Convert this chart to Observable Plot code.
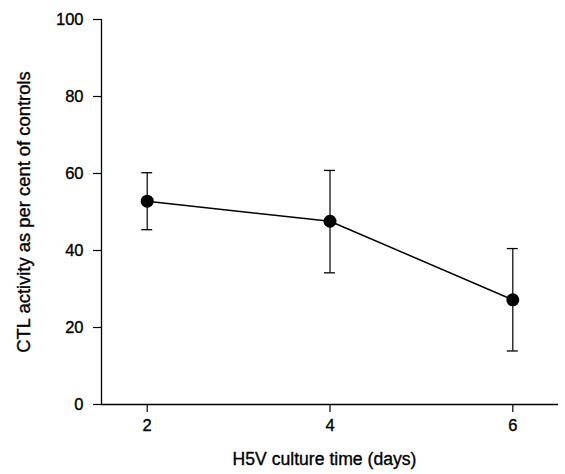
<!DOCTYPE html>
<html>
<head>
<meta charset="utf-8">
<script src="https://cdn.jsdelivr.net/npm/d3@7"></script>
<script src="https://cdn.jsdelivr.net/npm/@observablehq/plot@0.6"></script>
<style>
  html, body { margin: 0; padding: 0; background: #fff; }
</style>
</head>
<body>
<div id="chart"></div>
<script>
const days = [2, 4, 6];
const meanValues = [52.8, 47.6, 27.2];
const upperValues = [60.2, 60.8, 40.5];
const lowerValues = [45.4, 34.2, 13.9];
const xTicks = [2, 4, 6];
const yTicks = [0, 20, 40, 60, 80, 100];
const xLabel = "H5V culture time (days)";
const yLabel = "CTL activity as per cent of controls";

const data = days.map((d, i) => ({x: d, y: meanValues[i], hi: upperValues[i], lo: lowerValues[i]}));
const capHalf = 0.06;
const xMin = 1.5, xMax = 6.5;
const font = "'Liberation Sans', Arial, Helvetica, sans-serif";
const textWeight = {fill: "#000", stroke: "#000", strokeWidth: 0.35};

const chart = Plot.plot({
  width: 565,
  height: 474,
  marginLeft: 101,
  marginRight: 7,
  marginTop: 19,
  marginBottom: 70,
  style: {fontFamily: font, fontSize: "16px", color: "#000", background: "#fff"},
  x: {domain: [xMin, xMax]},
  y: {domain: [0, 100]},
  marks: [
    Plot.axisX({ticks: xTicks, tickFormat: () => "", tickSize: 8, label: null, stroke: "#000", strokeWidth: 1.2}),
    Plot.axisY({ticks: yTicks, tickFormat: () => "", tickSize: 8, label: null, stroke: "#000", strokeWidth: 1.2}),
    Plot.text(xTicks, {x: d => d, frameAnchor: "bottom", text: d => String(d), dy: 26, fontSize: 16.5, ...textWeight}),
    Plot.text(yTicks, {x: xMin, y: d => d, text: d => String(d), textAnchor: "end", dx: -18, fontSize: 16.5, ...textWeight}),
    Plot.ruleY([0], {stroke: "#000", strokeWidth: 1.3}),
    Plot.ruleX([xMin], {y1: 0, y2: 100, stroke: "#000", strokeWidth: 1.3}),
    Plot.ruleX(data, {x: "x", y1: "lo", y2: "hi", stroke: "#000", strokeWidth: 1.2}),
    Plot.ruleY(data, {y: "hi", x1: d => d.x - capHalf, x2: d => d.x + capHalf, stroke: "#000", strokeWidth: 1.3}),
    Plot.ruleY(data, {y: "lo", x1: d => d.x - capHalf, x2: d => d.x + capHalf, stroke: "#000", strokeWidth: 1.3}),
    Plot.line(data, {x: "x", y: "y", stroke: "#000", strokeWidth: 1.5}),
    Plot.dot(data, {x: "x", y: "y", r: 6.5, fill: "#000", stroke: "none"}),
    Plot.text([xLabel], {frameAnchor: "bottom", textAnchor: "middle", dy: 60, dx: -5.5, fontSize: 17.6, ...textWeight}),
    Plot.text([yLabel], {frameAnchor: "left", textAnchor: "middle", rotate: -90, dx: -77, dy: 0, fontSize: 18.4, ...textWeight})
  ]
});
document.getElementById("chart").appendChild(chart);
</script>
</body>
</html>
